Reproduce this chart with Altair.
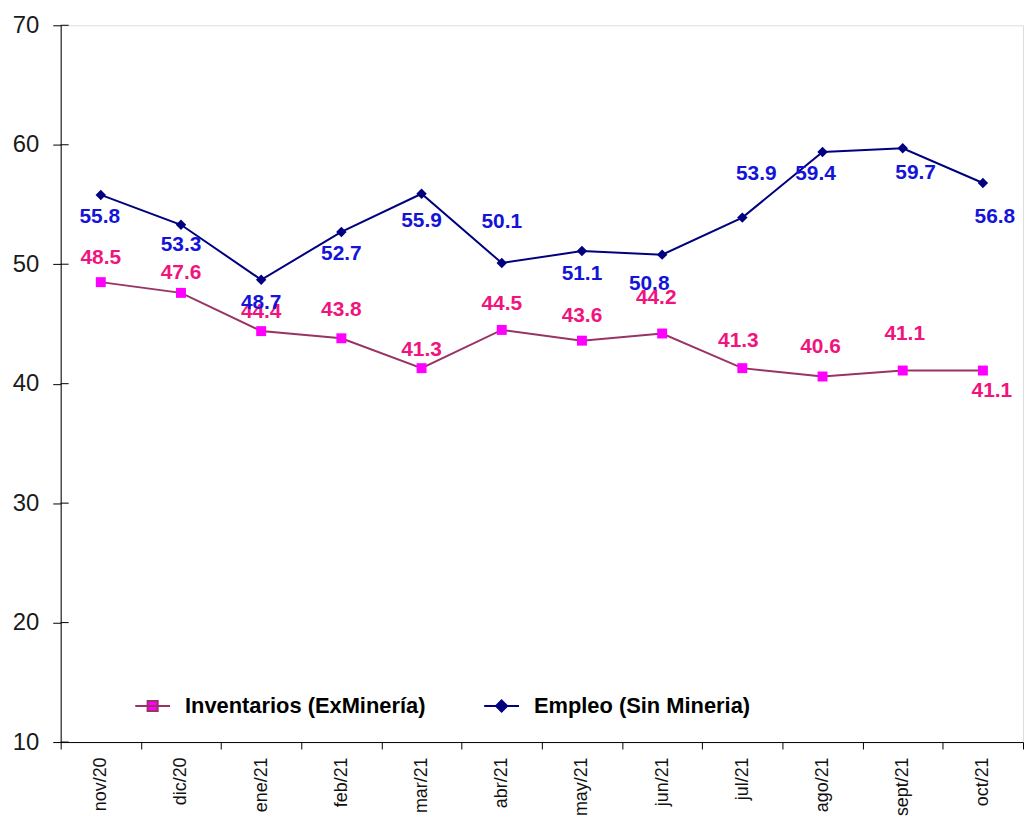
import altair as alt
import pandas as pd

FONT = "Liberation Sans"

months = ["nov/20", "dic/20", "ene/21", "feb/21", "mar/21", "abr/21",
          "may/21", "jun/21", "jul/21", "ago/21", "sept/21", "oct/21"]
inventarios = [48.5, 47.6, 44.4, 43.8, 41.3, 44.5, 43.6, 44.2, 41.3, 40.6, 41.1, 41.1]
empleo = [55.8, 53.3, 48.7, 52.7, 55.9, 50.1, 51.1, 50.8, 53.9, 59.4, 59.7, 56.8]
series_names = ["Inventarios (ExMinería)", "Empleo (Sin Mineria)"]
y_ticks = [10, 20, 30, 40, 50, 60, 70]

# label placement (pixel offsets of the value labels relative to their point)
inv_label_dy = [-24, -20, -19, -28, -18, -26, -25, -36, -27, -30, -37, 21]
inv_label_dx = [0, 0, 0, 0, 0, 0, 0, -6, -4, -2, 2, 9]
emp_label_dy = [22, 20, 23, 22, 27, -41, 23, 30, -44, 22, 25, 34]
emp_label_dx = [-1, 0, 0, 0, 0, 0, 0, -13, 14, -7, 13, 12]

df_inv = pd.DataFrame({"mes": months, "valor": inventarios, "serie": series_names[0]})
df_emp = pd.DataFrame({"mes": months, "valor": empleo, "serie": series_names[1]})
df_all = pd.concat([df_inv, df_emp], ignore_index=True)

x_enc = alt.X(
    "mes:N", sort=months,
    scale=alt.Scale(paddingInner=0, paddingOuter=0),
    axis=alt.Axis(title=None, labelAngle=270, labelAlign="right", labelBaseline="middle",
                  labelFontSize=18, labelFont=FONT, labelColor="#111111", labelPadding=8,
                  tickBand="extent", tickSize=7, tickColor="black", tickWidth=1,
                  domainColor="black", domainWidth=1, grid=False, labelOverlap=False),
)
y_enc = alt.Y(
    "valor:Q",
    scale=alt.Scale(domain=[10, 70], nice=False, zero=False),
    axis=alt.Axis(title=None, values=y_ticks, labelFontSize=24, labelFont=FONT,
                  labelColor="#1a1a1a", labelPadding=14, tickSize=8, tickColor="black",
                  tickWidth=1, domainColor="black", domainWidth=1, grid=False),
)

inv_line = alt.Chart(df_inv).mark_line(color="#993366", strokeWidth=2).encode(x=x_enc, y=y_enc)
emp_line = alt.Chart(df_emp).mark_line(color="#000080", strokeWidth=2).encode(x=x_enc, y=y_enc)

inv_pts = alt.Chart(df_inv).mark_point(shape="square", filled=True, fill="#FF00FF",
                                       size=100, opacity=1).encode(x=x_enc, y=y_enc)
emp_pts = alt.Chart(df_emp).mark_point(shape="diamond", filled=True, fill="#000080",
                                       size=110, opacity=1).encode(x=x_enc, y=y_enc)


def label_layers(df, dxs, dys, color):
    layers = []
    for i, m in enumerate(months):
        layers.append(
            alt.Chart(df).transform_filter(alt.datum.mes == m).mark_text(
                font=FONT, fontSize=21, fontWeight="bold", color=color,
                dx=dxs[i], dy=dys[i]
            ).encode(x=x_enc, y=y_enc, text=alt.Text("valor:Q", format=".1f"))
        )
    return layers


inv_txt = label_layers(df_inv, inv_label_dx, inv_label_dy, "#F0147E")
emp_txt = label_layers(df_emp, emp_label_dx, emp_label_dy, "#1414D8")

tick_rules = alt.Chart(pd.DataFrame({"t": y_ticks})).mark_rule(color="black", strokeWidth=1).encode(
    y=alt.Y("t:Q"), x=alt.value(0), x2=alt.value(8))

sym_inv = "M-1,0H1M-0.29,-0.29H0.29V0.29H-0.29Z"
sym_emp = "M-1,0H1M0,-0.32L0.32,0L0,0.32L-0.32,0Z"

legend = alt.Legend(title=None, orient="none", legendX=74, legendY=666, direction="horizontal",
                    labelFontSize=22, labelFont=FONT, labelFontWeight="bold", labelColor="black",
                    labelLimit=0, symbolSize=1225, symbolOpacity=1, symbolStrokeWidth=2,
                    columnPadding=54, labelOffset=14)

legend_layer = alt.Chart(df_all).mark_point(opacity=0, filled=True, size=1225).encode(
    x=x_enc, y=y_enc,
    shape=alt.Shape("serie:N", scale=alt.Scale(domain=series_names, range=[sym_inv, sym_emp]), legend=legend),
    fill=alt.Fill("serie:N", scale=alt.Scale(domain=series_names, range=["#FF00FF", "#000080"]), legend=legend),
    stroke=alt.Stroke("serie:N", scale=alt.Scale(domain=series_names, range=["#993366", "#000080"]), legend=legend),
)

chart = alt.layer(
    tick_rules, legend_layer, inv_line, emp_line, inv_pts, emp_pts, *inv_txt, *emp_txt
).properties(
    width=968, height=721,
    autosize=alt.AutoSizeParams(type="none"),
    padding={"left": 53, "top": 15, "right": 2, "bottom": 75},
).configure_view(stroke=None).configure(background="white")

chart.save("out.html", embed_options={"renderer": "svg", "actions": False})
